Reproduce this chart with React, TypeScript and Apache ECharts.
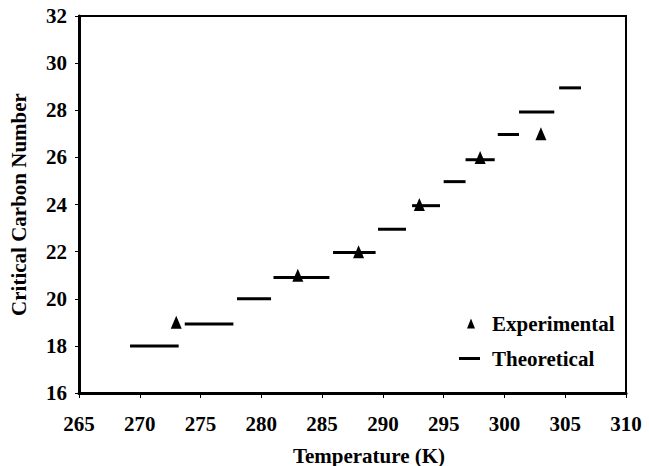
import React, { useEffect, useRef } from "react";
import * as echarts from "echarts";

// Experimental points (temperature K, critical carbon number)
const expTemps = [273, 283, 288, 293, 298, 303];
const expValues = [19, 21, 22, 24, 26, 27];

// Theoretical step segments
const theoStart = [269.2, 273.7, 278.0, 281.0, 285.9, 289.6, 292.4, 295.0, 296.8, 299.45, 301.2, 304.5];
const theoEnd = [273.2, 277.7, 280.8, 285.6, 289.4, 291.9, 294.7, 296.8, 299.2, 301.2, 304.1, 306.3];
const theoValues = [18, 18.93, 20, 20.9, 21.96, 22.95, 23.95, 24.97, 25.9, 26.97, 27.93, 28.95];

const xTicks = { min: 265, max: 310, interval: 5 };
const yTicks = { min: 16, max: 32, interval: 2 };

const FONT = "Liberation Serif";

export default function App() {
  const ref = useRef<HTMLDivElement>(null);
  useEffect(() => {
    if (!ref.current) return;
    const chart = echarts.init(ref.current, undefined, { renderer: "svg" });
    const theoData = theoStart.map((s, i) => [s, theoEnd[i], theoValues[i]]);
    const textBase = { fontFamily: FONT, fontWeight: "bold" as const, fontSize: 21, color: "#000" };
    chart.setOption({
      animation: false,
      backgroundColor: "#fff",
      grid: {
        left: 79,
        right: 23,
        top: 16,
        bottom: 73,
        show: true,
        borderColor: "#000",
        borderWidth: 2,
        containLabel: false,
        outerBoundsMode: "none",
      },
      legend: [
        {
          data: [{ name: "Experimental", icon: "triangle" }],
          left: 462,
          top: 308,
          itemWidth: 8,
          itemHeight: 10,
          itemGap: 0,
          textStyle: { ...textBase, padding: [0, 0, 0, 12] },
        },
        {
          data: [{ name: "Theoretical", icon: "rect" }],
          left: 454,
          top: 343,
          itemWidth: 21,
          itemHeight: 3,
          textStyle: { ...textBase, padding: [0, 0, 0, 7] },
        },
      ],
      xAxis: {
        type: "value",
        min: xTicks.min,
        max: xTicks.max,
        interval: xTicks.interval,
        name: "Temperature (K)",
        nameLocation: "middle",
        nameGap: 52,
        nameTextStyle: { ...textBase, padding: [0, 0, 0, 33] },
        axisLine: { show: true, lineStyle: { color: "#000", width: 3 } },
        axisTick: { show: true, length: 5, lineStyle: { color: "#000", width: 1 } },
        axisLabel: { ...textBase, margin: 20 },
        splitLine: { show: false },
      },
      yAxis: {
        type: "value",
        min: yTicks.min,
        max: yTicks.max,
        interval: yTicks.interval,
        name: "Critical Carbon Number",
        nameLocation: "middle",
        nameGap: 50,
        nameTextStyle: textBase,
        axisLine: { show: true, lineStyle: { color: "#000", width: 3 } },
        axisTick: { show: true, length: 4, lineStyle: { color: "#000", width: 1 } },
        axisLabel: { ...textBase, margin: 12 },
        splitLine: { show: false },
      },
      series: [
        {
          name: "Theoretical",
          type: "custom",
          itemStyle: { color: "#000" },
          renderItem: (params: any, api: any) => {
            const p1 = api.coord([api.value(0), api.value(2)]);
            const p2 = api.coord([api.value(1), api.value(2)]);
            return {
              type: "line",
              shape: { x1: p1[0], y1: p1[1], x2: p2[0], y2: p2[1] },
              style: { stroke: "#000", lineWidth: 3 },
            };
          },
          encode: { x: [0, 1], y: 2 },
          data: theoData,
          z: 2,
        },
        {
          name: "Experimental",
          type: "scatter",
          symbol: "triangle",
          symbolSize: [11, 13],
          itemStyle: { color: "#000", opacity: 1 },
          data: expTemps.map((t, i) => [t, expValues[i]]),
          z: 3,
        },
      ],
    });
    return () => chart.dispose();
  }, []);
  return (
    <div
      ref={ref}
      style={{ position: "absolute", left: 0, top: 0, width: 649, height: 466 }}
    />
  );
}
